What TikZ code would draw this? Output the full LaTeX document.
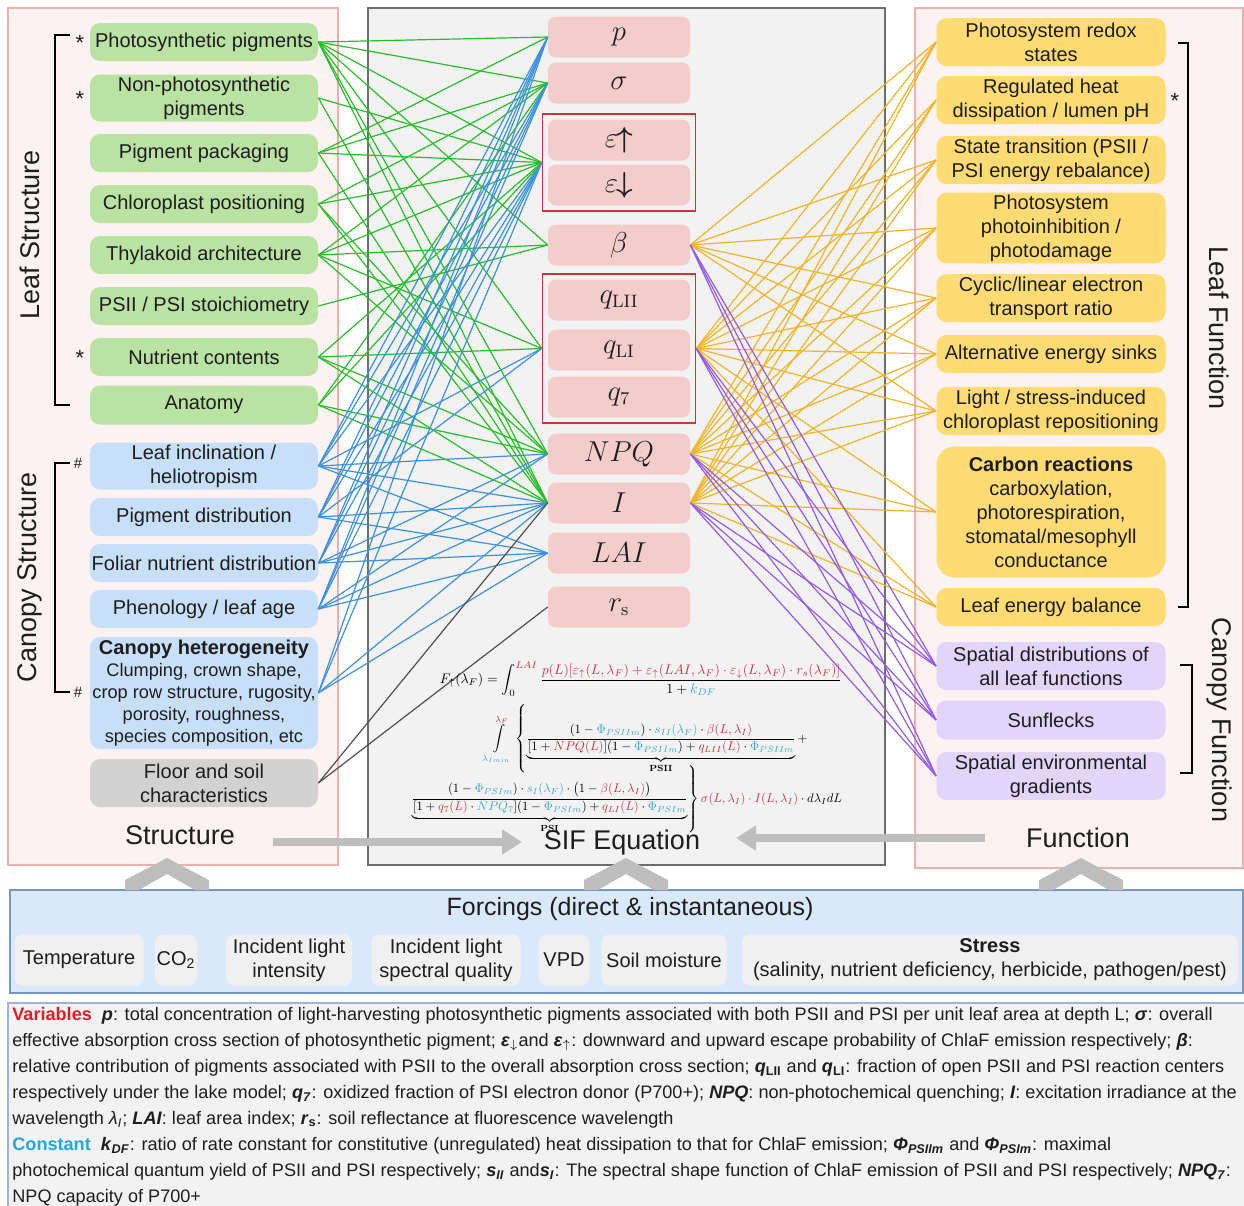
\documentclass[tikz,border=0pt]{standalone}
\usepackage{amsmath}
\usepackage[no-math]{fontspec}
\setmainfont{Liberation Sans}
\usepackage{graphicx}
\usetikzlibrary{arrows.meta,fit}
\definecolor{txt}{RGB}{30,30,30}
\definecolor{gfill}{RGB}{185,226,163}
\definecolor{bfill}{RGB}{199,223,248}
\definecolor{sfill}{RGB}{210,210,210}
\definecolor{yfill}{RGB}{255,220,115}
\definecolor{pfill}{RGB}{226,212,250}
\definecolor{mfill}{RGB}{245,204,204}
\definecolor{frred}{RGB}{200,55,55}
\definecolor{panpink}{RGB}{253,242,242}
\definecolor{panpinkb}{RGB}{238,175,175}
\definecolor{pangray}{RGB}{242,242,242}
\definecolor{pangrayb}{RGB}{110,110,110}
\definecolor{forfill}{RGB}{218,232,251}
\definecolor{forbord}{RGB}{120,150,195}
\definecolor{itemfill}{RGB}{240,240,240}
\definecolor{lgreen}{RGB}{40,190,40}
\definecolor{lblue}{RGB}{60,145,225}
\definecolor{lorange}{RGB}{240,180,40}
\definecolor{lpurple}{RGB}{150,90,230}
\definecolor{lgray}{RGB}{80,80,80}
\definecolor{arrgray}{RGB}{190,190,190}
\definecolor{eqred}{RGB}{205,50,70}
\definecolor{eqcyan}{RGB}{60,170,210}
\definecolor{varred}{RGB}{220,30,40}
\definecolor{constcyan}{RGB}{30,170,220}
\newcommand{\vr}[1]{{\color{eqred}#1}}
\newcommand{\vc}[1]{{\color{eqcyan}#1}}
\newcommand{\bi}[1]{\textbf{\textit{#1}}}
\begin{document}
\begin{tikzpicture}[x=0.5pt,y=-0.5pt,
  cbox/.style={rounded corners=5pt, align=center, inner sep=1pt, text=txt, font=\fontsize{10}{12}\selectfont},
  gbox/.style={cbox, fill=gfill, minimum width=114pt, minimum height=19pt},
  bbox/.style={cbox, fill=bfill, minimum width=114pt, minimum height=19pt},
  sbox/.style={cbox, fill=sfill, minimum width=114pt, minimum height=19pt},
  ybox/.style={cbox, fill=yfill, minimum width=114.5pt, minimum height=19pt},
  pbox/.style={cbox, fill=pfill, minimum width=114.5pt, minimum height=19pt},
  mbox/.style={rounded corners=4pt, fill=mfill, minimum width=71pt, minimum height=20.5pt, inner sep=0pt, text=txt, font=\fontsize{13.5}{14}\selectfont},
  grp/.style={draw=frred, line width=0.8pt, inner sep=2.5pt},
  fitem/.style={rounded corners=4pt, fill=itemfill, minimum height=25.5pt, align=center, inner sep=0pt, text=txt, font=\fontsize{10}{12}\selectfont},
  gline/.style={draw=lgreen, line width=0.6pt},
  bline/.style={draw=lblue, line width=0.6pt},
  oline/.style={draw=lorange, line width=0.6pt},
  uline/.style={draw=lpurple, line width=0.6pt},
  kline/.style={draw=lgray, line width=0.6pt},
  brk/.style={draw=black, line width=0.6pt},
  big/.style={text=txt, font=\fontsize{13.5}{15}\selectfont},
  fatarrow/.style={draw=arrgray, line width=4pt, -{Triangle[length=10pt,width=12pt]}},
  chev/.style={fill=arrgray, draw=none}
]
\useasboundingbox (0,0) rectangle (1244,1206);
% panels
\draw[fill=panpink, draw=panpinkb, line width=0.6pt] (8,8) rectangle (338,865);
\draw[fill=pangray, draw=pangrayb, line width=0.7pt] (368,8) rectangle (885,865);
\draw[fill=panpink, draw=panpinkb, line width=0.6pt] (915,8) rectangle (1243,868);
\draw[fill=forfill, draw=forbord, line width=0.6pt] (10,890) rectangle (1243,993);
\fill[pangray] (8,1003) rectangle (1244,1206);
\draw[draw=forbord!70, line width=0.6pt] (8,1206) -- (8,1003) -- (1244,1003);

% left boxes
\node[gbox] (g1) at (204,42) {Photosynthetic pigments};
\node[gbox, minimum height=23.5pt] (g2) at (204,98) {Non-photosynthetic\\pigments};
\node[gbox] (g3) at (204,153) {Pigment packaging};
\node[gbox] (g4) at (204,204) {Chloroplast positioning};
\node[gbox] (g5) at (204,255) {Thylakoid architecture};
\node[gbox] (g6) at (204,306) {PSII / PSI stoichiometry};
\node[gbox] (g7) at (204,357) {Nutrient contents};
\node[gbox, minimum height=19.5pt] (g8) at (204,405) {Anatomy};
\node[bbox, minimum height=23.5pt] (b1) at (204,466) {Leaf inclination /\\heliotropism};
\node[bbox] (b2) at (204,517) {Pigment distribution};
\node[bbox] (b3) at (204,563) {Foliar nutrient distribution};
\node[bbox] (b4) at (204,609) {Phenology / leaf age};
\node[bbox, minimum height=56pt, font=\fontsize{9.1}{11}\selectfont] (b5) at (204,693) {{\fontsize{10}{12}\selectfont\textbf{Canopy heterogeneity}}\\Clumping, crown shape,\\crop row structure, rugosity,\\porosity, roughness,\\species composition, etc};
\node[sbox, minimum height=24pt] (s1) at (204,783) {Floor and soil\\characteristics};

% left labels and brackets
\node[big, rotate=90] (lsl) at (30,235) {Leaf Structure};
\node[big, rotate=90] (csl) at (30,577) {Canopy Structure};
\draw[brk] (70,35) -- (55,35) -- (55,405) -- (70,405);
\draw[brk] (70,463) -- (55,463) -- (55,692) -- (70,692);
\node[text=txt, font=\fontsize{11}{11}\selectfont] (st1) at (80,43) {*};
\node[text=txt, font=\fontsize{11}{11}\selectfont] (st2) at (80,99) {*};
\node[text=txt, font=\fontsize{11}{11}\selectfont] (st3) at (80,358) {*};
\node[text=txt, font=\fontsize{7.5}{7.5}\selectfont] (h1) at (78,463) {\#};
\node[text=txt, font=\fontsize{7.5}{7.5}\selectfont] (h2) at (78,692) {\#};

% middle boxes
\node[mbox] (m1) at (619,37) {$p$};
\node[mbox] (m2) at (619,83) {$\sigma$};
\node[mbox] (m3) at (619,140) {$\varepsilon\mkern-1mu{\boldsymbol{\uparrow}}$};
\node[mbox] (m4) at (619,185) {$\varepsilon\mkern-1mu{\boldsymbol{\downarrow}}$};
\node[mbox] (m5) at (619,245) {$\beta$};
\node[mbox] (m6) at (619,300) {$q_{\mathrm{LII}}$};
\node[mbox] (m7) at (619,350) {$q_{\mathrm{LI}}$};
\node[mbox] (m8) at (619,397) {$q_{7}$};
\node[mbox] (m9) at (619,454) {$NPQ$};
\node[mbox] (m10) at (619,503) {$I$};
\node[mbox] (m11) at (619,553) {$LAI$};
\node[mbox] (m12) at (619,607) {$r_{\mathrm{s}}$};
\node[grp, fit=(m3)(m4)] (eg) {};
\node[grp, fit=(m6)(m7)(m8)] (qg) {};

% right boxes
\node[ybox, minimum height=24pt] (y1) at (1051,42) {Photosystem redox\\states};
\node[ybox, minimum height=24pt] (y2) at (1051,100) {Regulated heat\\dissipation / lumen pH};
\node[ybox, minimum height=24pt] (y3) at (1051,160) {State transition (PSII /\\PSI energy rebalance)};
\node[ybox, minimum height=34pt] (y4) at (1051,228) {Photosystem\\photoinhibition /\\photodamage};
\node[ybox, minimum height=24pt] (y5) at (1051,298) {Cyclic/linear electron\\transport ratio};
\node[ybox] (y6) at (1051,354) {Alternative energy sinks};
\node[ybox, minimum height=24pt] (y7) at (1051,411) {Light / stress-induced\\chloroplast repositioning};
\node[ybox, minimum height=65.5pt, rounded corners=9pt] (y8) at (1051,512) {\textbf{Carbon reactions}\\carboxylation,\\photorespiration,\\stomatal/mesophyll\\conductance};
\node[ybox] (y9) at (1051,607) {Leaf energy balance};
\node[pbox, minimum height=24pt] (u1) at (1051,666) {Spatial distributions of\\all leaf functions};
\node[pbox, minimum height=19.5pt] (u2) at (1051,720) {Sunflecks};
\node[pbox, minimum height=24pt] (u3) at (1051,776) {Spatial environmental\\gradients};

% right labels and brackets
\draw[brk] (1178,43) -- (1188,43) -- (1188,607) -- (1178,607);
\draw[brk] (1180,665) -- (1192,665) -- (1192,773) -- (1180,773);
\node[text=txt, font=\fontsize{11}{11}\selectfont] (st4) at (1175,101) {*};
\node[big, rotate=-90] (lfl) at (1219,328) {Leaf Function};
\node[big, rotate=-90] (cfl) at (1219,720) {Canopy Function};

% connectors left
\foreach \s/\t in {g1/m1,g1/m2,g1/eg,g1/m5,g1/qg,g1/m9,g1/m10,
                   g2/eg,g2/m10,
                   g3/m1,g3/m2,g3/eg,g3/m10,
                   g4/m2,g4/eg,g4/m9,g4/m10,
                   g5/m2,g5/eg,g5/m5,g5/qg,g5/m9,
                   g6/m5,
                   g7/eg,g7/qg,g7/m9,g7/m10,
                   g8/m2,g8/eg,g8/m9,g8/m10}
  \draw[gline] (\s.east) -- (\t.west);
\foreach \s/\t in {b1/m1,b1/m2,b1/eg,b1/qg,b1/m9,b1/m10,b1/m11,
                   b2/m1,b2/m2,b2/eg,b2/qg,b2/m10,b2/m11,
                   b3/m1,b3/m2,b3/eg,b3/m9,b3/m10,b3/m11,
                   b4/m1,b4/m2,b4/eg,b4/m9,b4/m10,b4/m11,
                   b5/m1,b5/eg,b5/m10,b5/m11}
  \draw[bline] (\s.east) -- (\t.west);
\foreach \t in {m10,m12}
  \draw[kline] (s1.east) -- (\t.west);

% connectors right
\foreach \s/\t in {m5/y1,m5/y3,m5/y4,m5/y5,m5/y6,m5/y7,
                   qg/y1,qg/y2,qg/y3,qg/y4,qg/y5,qg/y6,qg/y7,qg/y8,qg/y9,
                   m9/y1,m9/y2,m9/y3,m9/y4,m9/y5,m9/y6,m9/y7,m9/y8,m9/y9,
                   m10/y1,m10/y2,m10/y3,m10/y4,m10/y5,m10/y6,m10/y7,m10/y8,m10/y9}
  \draw[oline] (\s.east) -- (\t.west);
\foreach \s in {m5,qg,m9,m10}
  \foreach \t in {u1,u2,u3}
    \draw[uline] (\s.east) -- (\t.west);

% equation
\node[inner sep=0pt, text=black] (eq1) at (641,679) {\resizebox{201pt}{!}{$F_{\uparrow}(\lambda_F)=\displaystyle\int_0^{\vr{LAI}}\frac{\vr{p(L)[\varepsilon_{\uparrow}(L,\lambda_F)+\varepsilon_{\uparrow}(LAI,\lambda_F)\cdot\varepsilon_{\downarrow}(L,\lambda_F)\cdot r_s(\lambda_F)]}}{1+\vc{k_{DF}}}$}};
\node[inner sep=0pt, text=black] (eq2) at (647,739) {\resizebox{162pt}{!}{$\displaystyle\int\limits_{\vc{\lambda_{Imin}}}^{\vr{\lambda_F}}\left\{\underbrace{\frac{(1-\vc{\Phi_{PSIIm}})\cdot\vc{s_{II}(\lambda_F)}\cdot\vr{\beta(L,\lambda_I)}}{[1+\vr{NPQ(L)}](1-\vc{\Phi_{PSIIm}})+\vr{q_{LII}(L)}\cdot\vc{\Phi_{PSIIm}}}}_{\mathbf{PSII}}+\right.$}};
\node[inner sep=0pt, text=black] (eq3) at (626,799) {\resizebox{216pt}{!}{$\displaystyle\left.\underbrace{\frac{(1-\vc{\Phi_{PSIm}})\cdot\vc{s_I(\lambda_F)}\cdot\bigl(1-\vr{\beta(L,\lambda_I)}\bigr)}{[1+\vr{q_7(L)}\cdot\vc{NPQ_7}](1-\vc{\Phi_{PSIm}})+\vr{q_{LI}(L)}\cdot\vc{\Phi_{PSIm}}}}_{\mathbf{PSI}}\right\}\vr{\sigma(L,\lambda_I)\cdot I(L,\lambda_I)}\cdot d\lambda_I dL$}};

% section titles and big arrows
\node[big] (tstr) at (180,835) {Structure};
\node[big] (tsif) at (622,843) {SIF Equation};
\node[big] (tfun) at (1078,838) {Function};
\coordinate (a1s) at (273,842);
\coordinate (a1e) at (522,842);
\coordinate (a2s) at (985,838);
\coordinate (a2e) at (736,838);
\draw[fatarrow] (a1s) -- (a1e);
\draw[fatarrow] (a2s) -- (a2e);

% chevrons
\foreach \cx in {167,626,1081}
  \fill[chev] (\cx-42,890) -- (\cx-42,880) -- (\cx,858) -- (\cx+42,880) -- (\cx+42,890) -- (\cx+28,890) -- (\cx,874) -- (\cx-28,890) -- cycle;

% forcings
\node[text=txt, font=\fontsize{12.5}{14}\selectfont] (ftitle) at (630,909) {Forcings (direct \& instantaneous)};
\node[fitem, minimum width=64.5pt] (f1) at (79,960) {Temperature};
\node[fitem, minimum width=21pt] (f2) at (176,960) {CO\textsubscript{2}};
\node[fitem, minimum width=63pt] (f3) at (289,960) {Incident light\\intensity};
\node[fitem, minimum width=74.5pt] (f4) at (446,960) {Incident light\\spectral quality};
\node[fitem, minimum width=25.5pt] (f5) at (564,960) {VPD};
\node[fitem, minimum width=62.5pt] (f6) at (664,960) {Soil moisture};
\node[fitem, minimum width=248pt] (f7) at (990,960) {\textbf{Stress}\\(salinity, nutrient deficiency, herbicide, pathogen/pest)};

% legend text
\node[anchor=north west, inner sep=0pt, align=left, text=txt, font=\fontsize{9.05}{13}\selectfont] (legend) at (12,1007) {%
{\color{varred}\textbf{Variables}}\ \ \bi{p}: total concentration of light-harvesting photosynthetic pigments associated with both PSII and PSI per unit leaf area at depth L; \bi{σ}: overall\\
effective absorption cross section of photosynthetic pigment; \bi{ε}$_{\downarrow}$and \bi{ε}$_{\uparrow}$: downward and upward escape probability of ChlaF emission respectively; \bi{β}:\\
relative contribution of pigments associated with PSII to the overall absorption cross section; \bi{q}\textsubscript{\textbf{LII}} and \bi{q}\textsubscript{\textbf{LI}}: fraction of open PSII and PSI reaction centers\\
respectively under the lake model; \bi{q}\textsubscript{\bi{7}}: oxidized fraction of PSI electron donor (P700+); \bi{NPQ}: non-photochemical quenching; \bi{I}: excitation irradiance at the\\
wavelength \textit{λ}\textsubscript{\textit{I}}; \bi{LAI}: leaf area index; \bi{r}\textsubscript{\textbf{s}}: soil reflectance at fluorescence wavelength\\
{\color{constcyan}\textbf{Constant}}\ \ \bi{k}\textsubscript{\bi{DF}}: ratio of rate constant for constitutive (unregulated) heat dissipation to that for ChlaF emission; \bi{Φ}\textsubscript{\bi{PSIIm}} and \bi{Φ}\textsubscript{\bi{PSIm}}: maximal\\
photochemical quantum yield of PSII and PSI respectively; \bi{s}\textsubscript{\bi{II}} and\bi{s}\textsubscript{\bi{I}}: The spectral shape function of ChlaF emission of PSII and PSI respectively; \bi{NPQ}\textsubscript{\bi{7}}:\\
NPQ capacity of P700+};
\end{tikzpicture}
\end{document}
